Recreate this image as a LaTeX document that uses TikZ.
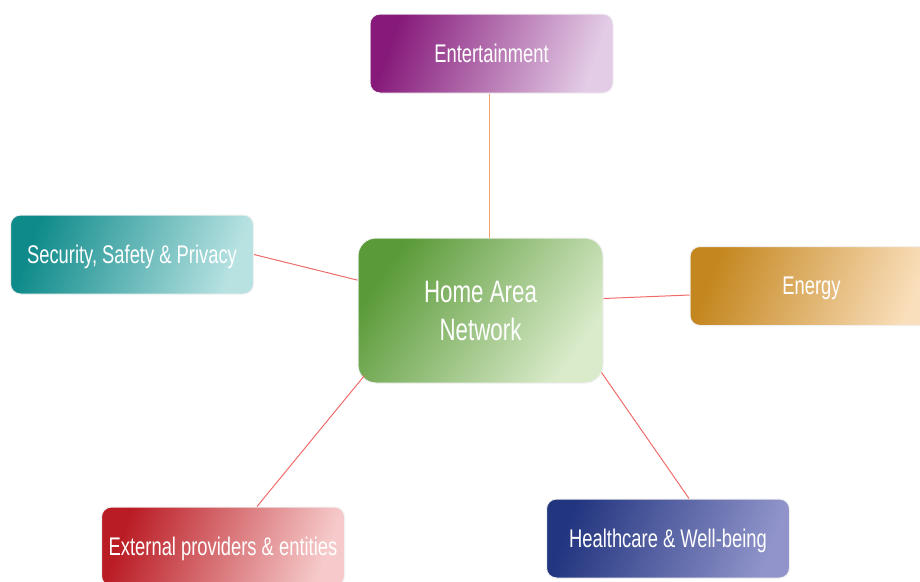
\documentclass[tikz,border=0pt]{standalone}
\usepackage{fontspec}
\setmainfont[FakeStretch=0.72]{Liberation Sans}
\definecolor{entdark}{HTML}{86197A}
\definecolor{entlight}{HTML}{E3CCE6}
\definecolor{secdark}{HTML}{0E8A8A}
\definecolor{seclight}{HTML}{B8E2E2}
\definecolor{handark}{HTML}{5A9A38}
\definecolor{hanlight}{HTML}{DAEBCB}
\definecolor{engdark}{HTML}{C4861E}
\definecolor{englight}{HTML}{FADFBC}
\definecolor{extdark}{HTML}{BA1C24}
\definecolor{extlight}{HTML}{F6CACA}
\definecolor{hlthdark}{HTML}{22357F}
\definecolor{hlthlight}{HTML}{9094CA}
\definecolor{linkred}{HTML}{F26B6B}
\definecolor{linkorange}{HTML}{F5A36C}
\begin{document}
\begin{tikzpicture}
        [x=1pt,y=-1pt,
        box/.style={draw=black!6,line width=1pt,rounded corners=10pt,
                minimum width=243pt,minimum height=79pt,text depth=0pt,
                text=white,font=\fontsize{25.5}{30}\selectfont},
        hub/.style={box,rounded corners=18pt,minimum width=245pt,minimum height=145pt,
                align=center,font=\fontsize{31}{38}\selectfont},
        link/.style={draw=linkred,line width=1pt}]
        \useasboundingbox (0,0) rectangle (920,581);
        %Knoten
        \node [hub,left color=handark,right color=hanlight,shading angle=55] (han) at (480.5,310.5) {Home Area\\Network};
        \node [box,left color=entdark,right color=entlight,shading angle=70] (ent) at (491.5,53.5) {Entertainment};
        \node [box,left color=secdark,right color=seclight,shading angle=70] (sec) at (132,254.5) {Security, Safety \& Privacy};
        \node [box,left color=engdark,right color=englight,shading angle=70] (eng) at (811.5,286) {Energy};
        \node [box,left color=extdark,right color=extlight,shading angle=70] (ext) at (223,546.5) {External providers \& entities};
        \node [box,left color=hlthdark,right color=hlthlight,shading angle=70] (hlth) at (668,538.5) {Healthcare \& Well-being};
        %Verbindungen
        \draw [link,draw=linkorange] ([xshift=-2.5pt]ent.south) -- ([xshift=-2.5pt]ent.south |- han.north);
        \draw [link] (sec.east) -- (han);
        \draw [link] ([yshift=-9pt]eng.west) -- ([shift={(0pt,12pt)}]han.east);
        \draw [link] ([xshift=34pt]ext.north) -- ([shift={(7pt,8pt)}]han.south west);
        \draw [link] ([xshift=21pt]hlth.north) -- ([shift={(-2pt,11pt)}]han.south east);
\end{tikzpicture}
\end{document}
